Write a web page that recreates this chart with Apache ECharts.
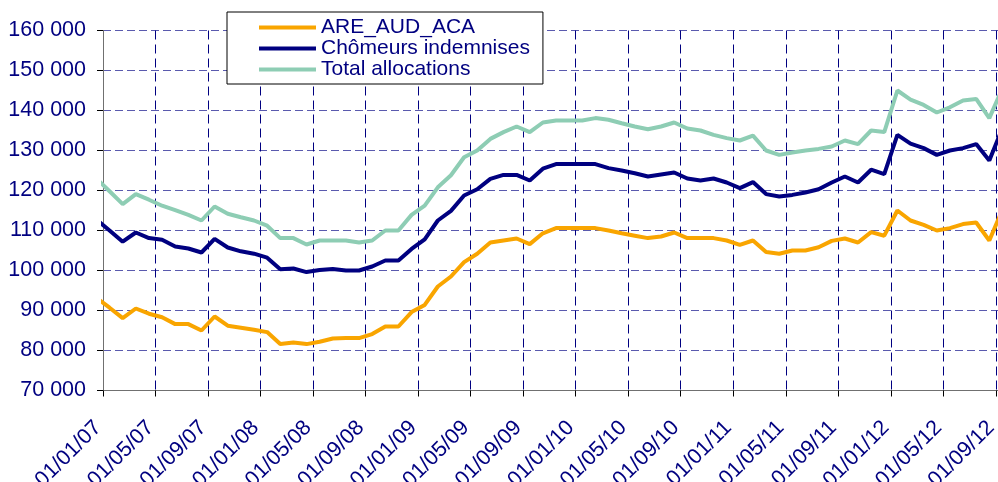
<!DOCTYPE html>
<html>
<head>
<meta charset="utf-8">
<title>ARE / Chômeurs indemnisés / Total allocations</title>
<script src="https://cdn.jsdelivr.net/npm/echarts@6.0.0/dist/echarts.min.js"></script>
<style>
  html, body { margin: 0; padding: 0; background: #fff; }
  #chart { width: 998px; height: 482px; }
</style>
</head>
<body>
<div id="chart"></div>
<script>
// monthly values, first entry = Dec 2006 (just left of the axis), then Jan 2007 .. Sep 2012
var areAudAca = [
  93200, 90700, 88100, 90500, 89200, 88300, 86600, 86600, 85000, 88500, 86200, 85700, 85200,
  84600, 81600, 82000, 81600, 82200, 83000, 83100, 83100, 84100, 86000, 86000, 89600,
  91400, 96000, 98500, 102100, 104200, 107000, 107500, 108000, 106600, 109300, 110600, 110600,
  110600, 110600, 110000, 109300, 108700, 108100, 108500, 109500, 108100, 108100, 108100, 107500,
  106400, 107500, 104600, 104200, 105000, 105000, 105800, 107400, 108000, 107000, 109600, 108700,
  115000, 112500, 111400, 110000, 110600, 111600, 112000, 107500, 115200
];
var chomeursIndemnises = [
  112700, 110000, 107200, 109500, 108100, 107700, 106000, 105500, 104500, 107900, 105750, 104800, 104200,
  103200, 100300, 100500, 99600, 100100, 100400, 100000, 100000, 101000, 102500, 102500, 105400,
  107800, 112500, 114900, 118750, 120300, 122900, 123900, 123900, 122500, 125450, 126600, 126600,
  126600, 126600, 125600, 125000, 124300, 123500, 124000, 124500, 123000, 122500, 123000, 122000,
  120600, 122100, 119100, 118500, 118900, 119500, 120300, 122000, 123500, 122000, 125200, 124100,
  133900, 131700, 130600, 128900, 130000, 130600, 131600, 127500, 135600
];
var totalAllocations = [
  123000, 119800, 116600, 119100, 117700, 116200, 115100, 113900, 112500, 116000, 114200, 113300, 112500,
  111200, 108100, 108100, 106500, 107500, 107500, 107500, 107000, 107500, 110000, 110000, 113900,
  116200, 120800, 123800, 128300, 130000, 132900, 134600, 136000, 134600, 137000, 137500, 137500,
  137500, 138100, 137700, 136800, 136000, 135300, 136000, 137000, 135500, 135000, 133900, 133100,
  132500, 133700, 130000, 128900, 129500, 130000, 130400, 131000, 132500, 131600, 135000, 134600,
  145000, 142700, 141400, 139500, 140800, 142500, 142900, 138100, 145500
];
var tickLabels = [
  '01/01/07', '01/05/07', '01/09/07', '01/01/08', '01/05/08', '01/09/08',
  '01/01/09', '01/05/09', '01/09/09', '01/01/10', '01/05/10', '01/09/10',
  '01/01/11', '01/05/11', '01/09/11', '01/01/12', '01/05/12', '01/09/12'
];

var font = 'Liberation Sans, Arial, sans-serif';
var navy = '#000080';

// each month sits in the middle of its slot (month index k-1 + 0.5)
function toPoints(arr) {
  return arr.map(function (v, k) { return [k - 0.5, v]; });
}

var myChart = echarts.init(document.getElementById('chart'));

var option = {
  animation: false,
  backgroundColor: '#fff',
  legend: {
    orient: 'vertical',
    left: 227,
    top: 12,
    padding: [5, 13, 4, 32],
    itemGap: 0,
    itemWidth: 57,
    itemHeight: 20,
    icon: 'path://M0,0 L57,0 L57,4 L0,4 Z',
    symbolKeepAspect: true,
    borderColor: '#000',
    borderWidth: 1,
    backgroundColor: '#fff',
    textStyle: { fontFamily: font, fontSize: 21, color: navy, lineHeight: 20 },
    data: ['ARE_AUD_ACA', 'Chômeurs indemnises', 'Total allocations']
  },
  grid: {
    left: 103,
    right: -11,
    top: 30.5,
    bottom: 91.5,
    outerBoundsMode: 'none'
  },
  xAxis: {
    type: 'value',
    min: 0,
    max: 69,
    interval: 4,
    axisLine: { onZero: false, lineStyle: { color: '#707070', width: 1 } },
    axisTick: { length: 6, lineStyle: { color: '#000' } },
    axisLabel: {
      rotate: 45,
      margin: 29,
      padding: [0, 7, 0, 0],
      fontFamily: font,
      fontSize: 21.5,
      color: navy,
      formatter: function (v) {
        return v % 4 === 0 && tickLabels[v / 4] ? tickLabels[v / 4] : '';
      }
    },
    splitLine: { show: true, lineStyle: { color: navy, width: 1, type: [9, 5] } }
  },
  yAxis: {
    type: 'value',
    min: 70000,
    max: 160000,
    interval: 10000,
    axisLine: { show: true, lineStyle: { color: '#707070', width: 1 } },
    axisTick: { show: true, length: 6, lineStyle: { color: '#000' } },
    axisLabel: {
      margin: 17,
      fontFamily: font,
      fontSize: 21.5,
      color: navy,
      formatter: function (v) {
        return String(v).replace(/\B(?=(\d{3})+(?!\d))/g, ' ');
      }
    },
    splitLine: { show: true, lineStyle: { color: '#5a5aae', width: 1, type: [8, 4] } }
  },
  series: [
    {
      name: 'ARE_AUD_ACA',
      type: 'line',
      symbol: 'none',
      color: '#f9a500',
      lineStyle: { width: 4 },
      data: toPoints(areAudAca)
    },
    {
      name: 'Chômeurs indemnises',
      type: 'line',
      symbol: 'none',
      color: '#000080',
      lineStyle: { width: 4 },
      data: toPoints(chomeursIndemnises)
    },
    {
      name: 'Total allocations',
      type: 'line',
      symbol: 'none',
      color: '#8ecdb4',
      lineStyle: { width: 4 },
      data: toPoints(totalAllocations)
    }
  ]
};

myChart.setOption(option);
</script>
</body>
</html>
